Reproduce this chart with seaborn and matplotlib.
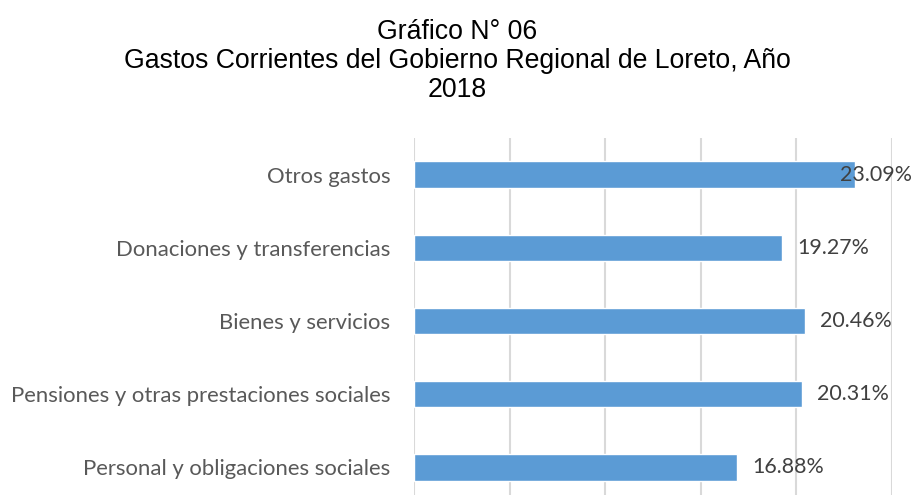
import matplotlib
matplotlib.use("Agg")
import matplotlib.pyplot as plt
import seaborn as sns
import pandas as pd

categories = ["Otros gastos", "Donaciones y transferencias", "Bienes y servicios",
              "Pensiones y otras prestaciones sociales", "Personal y obligaciones sociales"]
values = [23.09, 19.27, 20.46, 20.31, 16.88]
value_labels = ["23.09%", "19.27%", "20.46%", "20.31%", "16.88%"]
title_lines = ["Gráfico N° 06",
               "Gastos Corrientes del Gobierno Regional de Loreto, Año",
               "2018"]

df = pd.DataFrame({"cat": categories, "val": values})

sns.set_theme(style="white")
plt.rcParams["font.family"] = ["Lato", "DejaVu Sans"]

W, H = 914, 495
fig = plt.figure(figsize=(W / 100, H / 100), dpi=100)
ax = fig.add_axes([414 / W, (H - 504) / H, (891.7 - 414) / W, (504 - 138) / H])

sns.barplot(data=df, x="val", y="cat", orient="h", color="#5B9BD5",
            saturation=1, width=0.36, ax=ax)

ax.set_xlim(0, 25)
ax.set_xticks([0, 5, 10, 15, 20, 25])
ax.set_xticklabels([])
ax.grid(axis="x", color="#D9D9D9", linewidth=1.5)
ax.set_axisbelow(True)
for s in ax.spines.values():
    s.set_visible(False)
ax.set_xlabel("")
ax.set_ylabel("")
ax.tick_params(axis="y", length=0, pad=17, labelsize=15.9, labelcolor="#595959")
ax.tick_params(axis="x", length=0)

fig.canvas.draw()
renderer = fig.canvas.get_renderer()
for i, (v, lab) in enumerate(zip(values, value_labels)):
    t = ax.annotate(lab, xy=(v, i), xytext=(11, 0), textcoords="offset points",
                    ha="left", va="center", fontsize=15.4, color="#404040")
    bb = t.get_window_extent(renderer)
    if bb.x1 > W - 2:
        t.remove()
        fig.text((W - 2) / W, ax.transData.transform((v, i))[1] / H, lab,
                 ha="right", va="center", fontsize=15.4, color="#404040",
                 family=["Lato", "DejaVu Sans"])

baselines = [39, 68, 97]
for line, yb in zip(title_lines, baselines):
    fig.text(457 / W, 1 - yb / H, line, ha="center", va="baseline",
             fontsize=19.2, color="black", family=["Liberation Sans", "DejaVu Sans"])

fig.savefig("out.png", dpi=100)
